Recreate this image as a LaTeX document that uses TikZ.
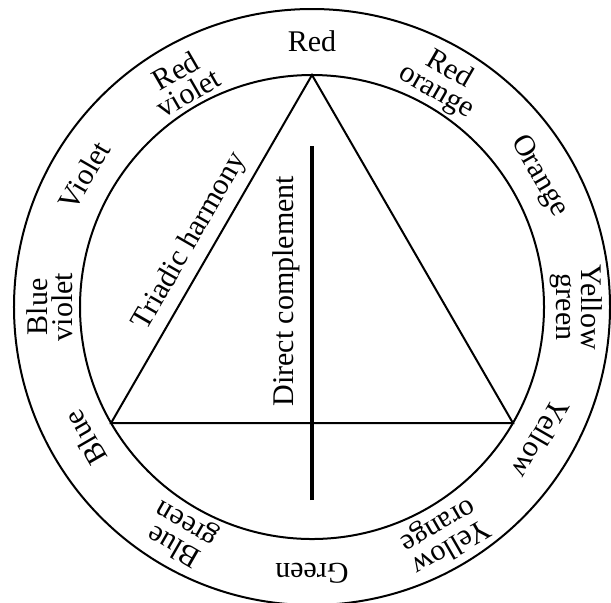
\documentclass[tikz,border=0pt]{standalone}
\usepackage{fontspec}
\setmainfont{Liberation Serif}
\usepackage{tikz}
\usetikzlibrary{positioning}

\begin{document}
\begin{tikzpicture}[
  x=0.4pt, y=0.4pt,
  every node/.style={font=\fontsize{12}{10}\selectfont},
  hue/.style={align=center, inner sep=0pt},
  ring/.style={draw=black, line width=0.8pt},
  edge/.style={draw=black, line width=0.8pt},
  complement/.style={draw=black, line width=1.7pt}
]
  \useasboundingbox (-312,-295) rectangle (299,307);
  \clip (-312,-295) rectangle (299,307);

  % Wheel
  \draw[ring] (0,0) circle (298);
  \draw[ring] (0,0) circle (232);

  % Hues round the ring
  \node[hue] (red) at (90:266) {Red};
  \node[hue, rotate=-30] (redorange) at (60:261) {Red\\orange};
  \node[hue, rotate=-60] (orange) at (30:262) {Orange};
  \node[hue, rotate=-90] (yellowgreen) at (0:264) {Yellow\\green};
  \node[hue, rotate=-120] (yellow) at (-30:264) {Yellow};
  \node[hue, rotate=-150] (yelloworange) at (-60:264) {Yellow\\orange};
  \node[hue, rotate=180] (green) at (-90:266) {Green};
  \node[hue, rotate=150] (bluegreen) at (-120:262) {Blue\\green};
  \node[hue, rotate=120] (blue) at (-150:262) {Blue};
  \node[hue, rotate=90] (blueviolet) at (180:262) {Blue\\violet};
  \node[hue, rotate=60] (violet) at (150:263) {Violet};
  \node[hue, rotate=30] (redviolet) at (120:260) {Red\\violet};

  % Triad
  \coordinate (vred) at (90:232);
  \coordinate (vyellow) at (-30:232);
  \coordinate (vblue) at (210:232);
  \draw[edge, line join=miter] (vblue) -- node[sloped, above, pos=0.49, inner sep=3pt] (triadic) {Triadic harmony} (vred) -- (vyellow) -- cycle;

  % Complement
  \coordinate (dbot) at (0,-193);
  \coordinate (dtop) at (0,161);
  \draw[complement] (dbot) -- node[sloped, above, pos=0.59, inner sep=4pt] (direct) {Direct complement} (dtop);

\end{tikzpicture}
\end{document}
